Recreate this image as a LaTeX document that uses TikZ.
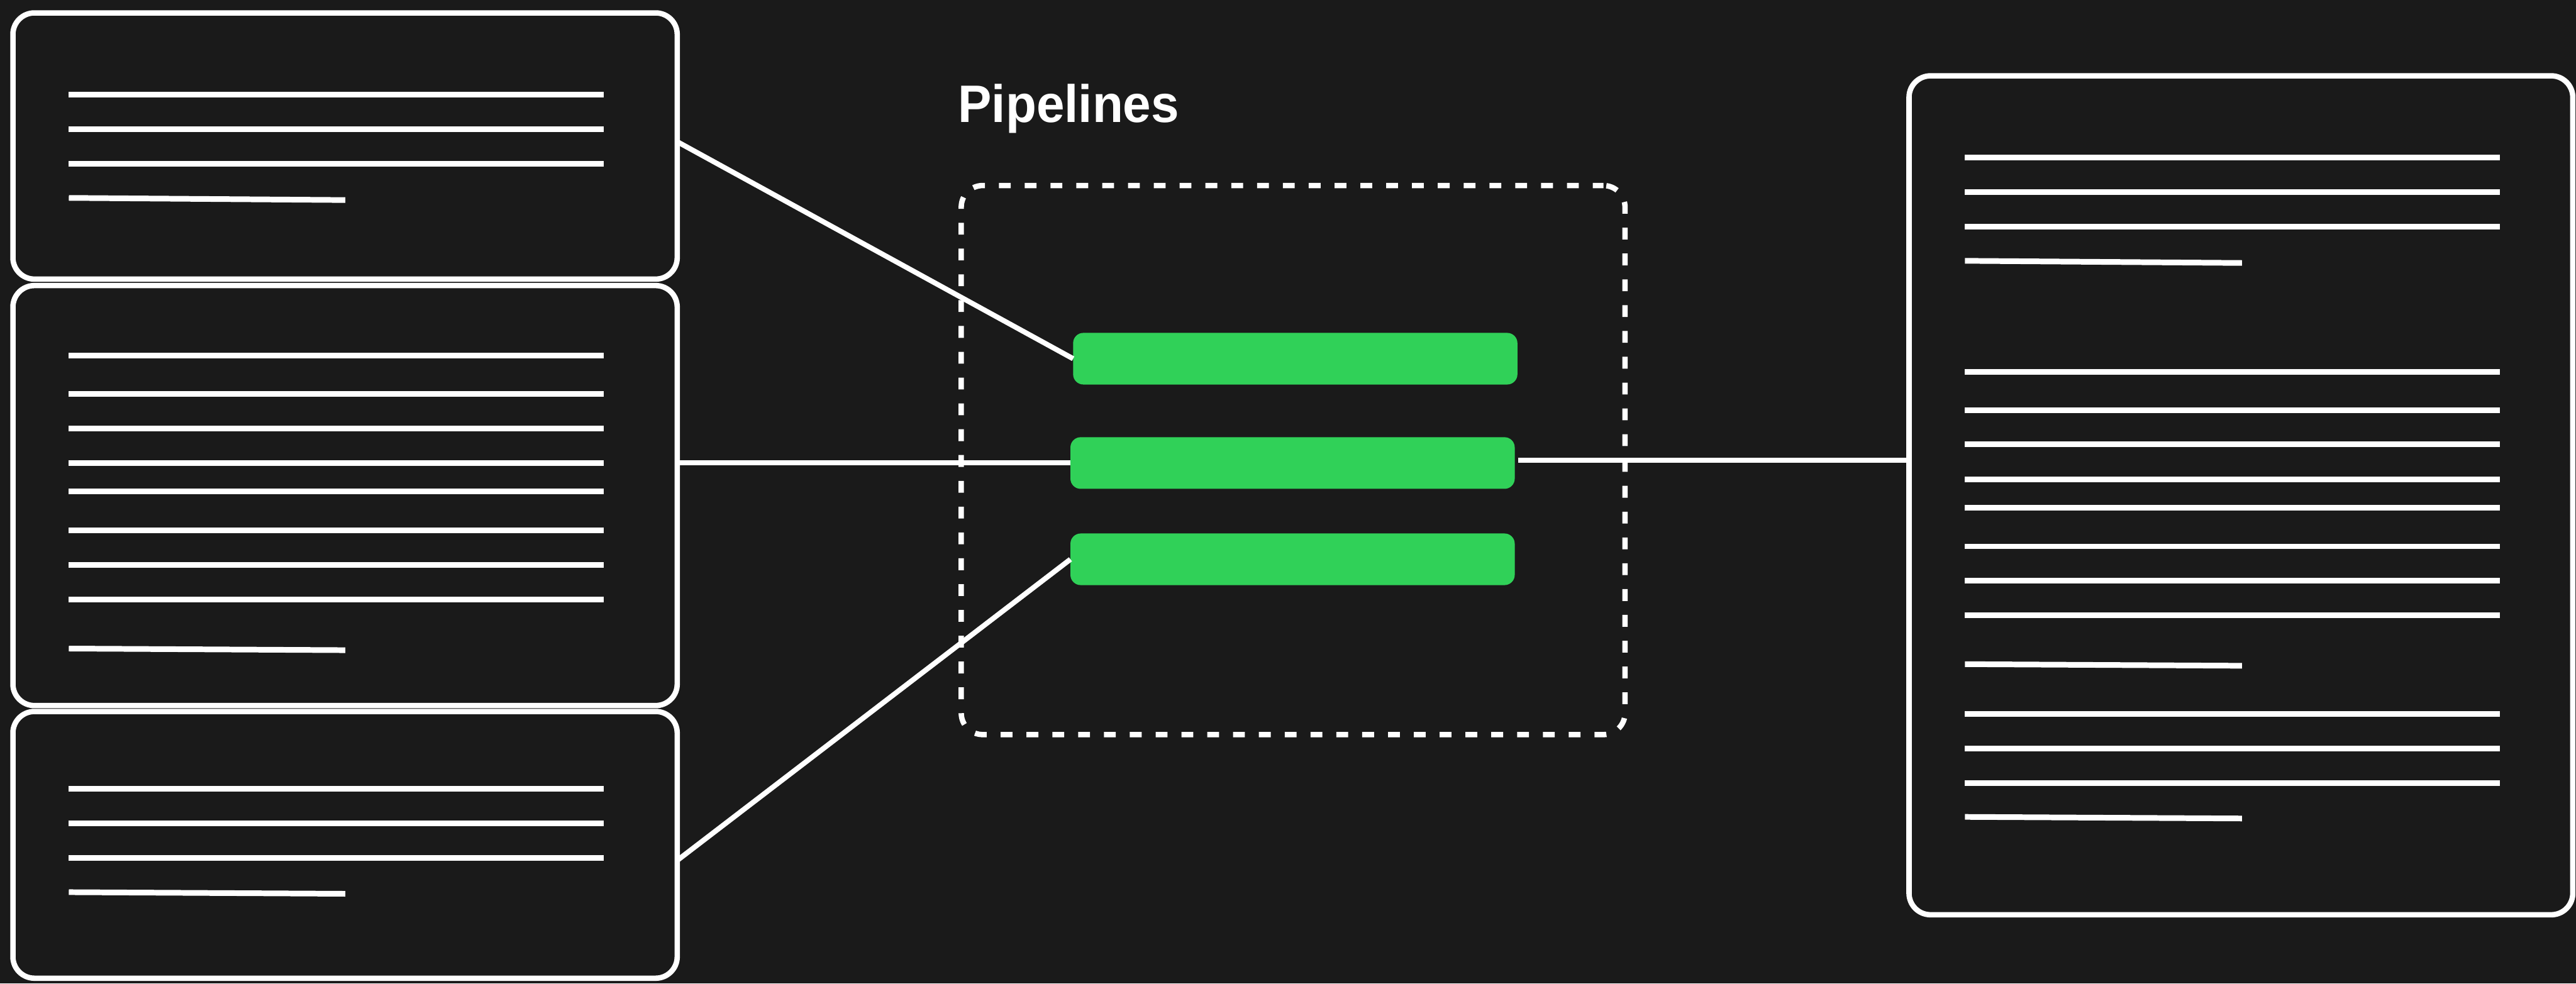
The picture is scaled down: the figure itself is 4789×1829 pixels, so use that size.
\documentclass[tikz,border=0pt]{standalone}
\usepackage{fontspec}
\newfontfamily\titlefont{Liberation Sans}
\definecolor{canvas}{HTML}{1A1A1A}
\definecolor{stagegreen}{HTML}{30D158}
\tikzset{
  docbox/.style={draw=white, line width=10pt, rounded corners=40pt, fill=canvas, inner sep=0pt, outer sep=0pt},
  stagebar/.style={fill=stagegreen, draw=none, rounded corners=19pt, inner sep=0pt, outer sep=0pt},
  groupframe/.style={draw=white, line width=10pt, rounded corners=40pt, dash pattern=on 22pt off 26pt, dash phase=2pt, inner sep=0pt},
  textrule/.style={draw=white, line width=10.5pt, line cap=butt},
  link/.style={draw=white, line width=9.5pt}
}
\begin{document}
\begin{tikzpicture}[x=1pt, y=-1pt]
  % canvas
  \fill[canvas] (0,0) rectangle (4789,1829);
  \useasboundingbox (0,0) rectangle (4789,1829);

  % source documents on the left
  \node[docbox, minimum width=1235pt, minimum height=495pt] (src1) at (641.5,271.5) {};
  \node[docbox, minimum width=1235pt, minimum height=781pt] (src2) at (641.5,921.5) {};
  \node[docbox, minimum width=1235pt, minimum height=496pt] (src3) at (641.5,1571) {};

  % output document on the right
  \node[docbox, minimum width=1234pt, minimum height=1560pt] (out) at (4166,921) {};

  % pipeline group
  \node[groupframe, minimum width=1234pt, minimum height=1021pt] (group) at (2404,855.5) {};
  \node[anchor=base west, inner sep=0pt, text=white, font=\titlefont\bfseries\fontsize{98}{110}\selectfont, xscale=0.955] (title) at (1781,227) {Pipelines};

  % text rules, first source
  \foreach \yy in {176,240,304} \draw[textrule] (128,\yy) -- (1122,\yy);
  \draw[textrule] (128,368) -- (642,372);
  % second source
  \foreach \yy in {661,733,797,861,914,986,1051,1115} \draw[textrule] (128,\yy) -- (1122,\yy);
  \draw[textrule] (128,1206) -- (642,1209);
  % third source
  \foreach \yy in {1467,1531,1595} \draw[textrule] (128,\yy) -- (1122,\yy);
  \draw[textrule] (128,1659) -- (642,1662);
  % output
  \foreach \yy in {293,357,421,691,763,826,891,944,1016,1080,1144,1328,1392,1456} \draw[textrule] (3653,\yy) -- (4648,\yy);
  \draw[textrule] (3653,485) -- (4168,489);
  \draw[textrule] (3653,1235) -- (4168,1238);
  \draw[textrule] (3653,1519) -- (4168,1522);

  % pipeline stages
  \node[stagebar, minimum width=826pt, minimum height=96pt] (stage1) at (2408,667) {};
  \node[stagebar, minimum width=826pt, minimum height=96pt] (stage2) at (2403,861) {};
  \node[stagebar, minimum width=826pt, minimum height=96pt] (stage3) at (2403,1040) {};

  % connectors
  \coordinate (src1out) at ([yshift=8pt]src1.east);
  \coordinate (src3out) at ([yshift=-29pt]src3.east);
  \draw[link] (src1out) -- (stage1.west);
  \draw[link] (src2.east |- stage2.west) -- (stage2.west);
  \draw[link] (src3out) -- (stage3.west);
  \draw[link] ([xshift=6pt, yshift=5pt]stage2.east) -- ([yshift=5pt]stage2.east -| out.west);
\end{tikzpicture}
\end{document}
